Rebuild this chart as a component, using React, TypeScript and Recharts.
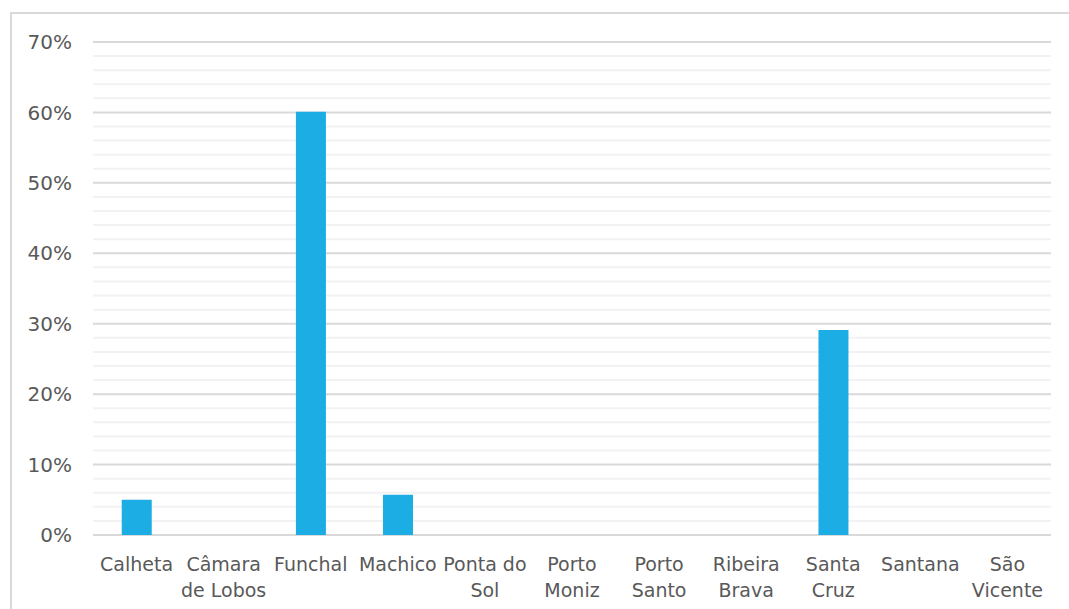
import React from 'react'
import { BarChart, Bar, XAxis, YAxis, CartesianGrid } from 'recharts'

const categories = [
  'Calheta', 'Câmara de Lobos', 'Funchal', 'Machico', 'Ponta do Sol', 'Porto Moniz',
  'Porto Santo', 'Ribeira Brava', 'Santa Cruz', 'Santana', 'São Vicente',
]
const tickLines = [
  ['Calheta'], ['Câmara', 'de Lobos'], ['Funchal'], ['Machico'], ['Ponta do', 'Sol'], ['Porto', 'Moniz'],
  ['Porto', 'Santo'], ['Ribeira', 'Brava'], ['Santa', 'Cruz'], ['Santana'], ['São', 'Vicente'],
]
const shares = [5.0, 0, 60.1, 5.7, 0, 0, 0, 0, 29.1, 0, 0]
const majorTicks = [0, 10, 20, 30, 40, 50, 60, 70]
const minorTicks = [2, 4, 6, 8, 12, 14, 16, 18, 22, 24, 26, 28, 32, 34, 36, 38, 42, 44, 46, 48, 52, 54, 56, 58, 62, 64, 66, 68]
const Y_MAX = 70

const FONT = '"DejaVu Sans", sans-serif'
const TEXT = '#595959'

const data = categories.map((name, i) => ({ name, value: shares[i] }))

function CategoryTick({ x, y, payload, index }: any) {
  const lines = tickLines[index] ?? [payload.value]
  return (
    <text x={x} y={y} textAnchor="middle" fill={TEXT} fontSize={19} fontFamily={FONT}>
      {lines.map((l: string, i: number) => (
        <tspan key={i} x={x} dy={i === 0 ? 28 : 26}>{l}</tspan>
      ))}
    </text>
  )
}

// minor grid rows at every 2%, placed inside the plot area
const minorRows = ({ offset }: any) =>
  minorTicks.map((t) => offset.top + offset.height * (1 - t / Y_MAX))

export default function App() {
  return (
    <div style={{ position: 'absolute', left: 0, top: 0, width: 1069, height: 609, background: '#fff' }}>
      <div style={{
        position: 'absolute', left: 10, top: 12, width: 1080, height: 620,
        border: '2px solid #d9d9d9', boxSizing: 'border-box',
      }} />
      <div style={{ position: 'absolute', left: 0, top: 0 }}>
        <BarChart width={1069} height={609} data={data}
          margin={{ top: 42, right: 18, bottom: 0, left: 0 }} barCategoryGap="33%">
          <YAxis width={93} domain={[0, Y_MAX]} ticks={majorTicks}
            tickFormatter={(v) => `${v}%`} axisLine={false} tickLine={false} tickSize={0} tickMargin={21}
            tick={{ fill: TEXT, fontSize: 20, fontFamily: FONT }} />
          <XAxis dataKey="name" height={74} axisLine={false} tickLine={false} interval={0}
            tick={<CategoryTick />} />
          <CartesianGrid vertical={false} stroke="#f2f2f2" strokeWidth={2}
            horizontalCoordinatesGenerator={minorRows} />
          <CartesianGrid vertical={false} stroke="#d9d9d9" strokeWidth={2} />
          <Bar dataKey="value" fill="#1cade4" isAnimationActive={false} />
        </BarChart>
      </div>
    </div>
  )
}
